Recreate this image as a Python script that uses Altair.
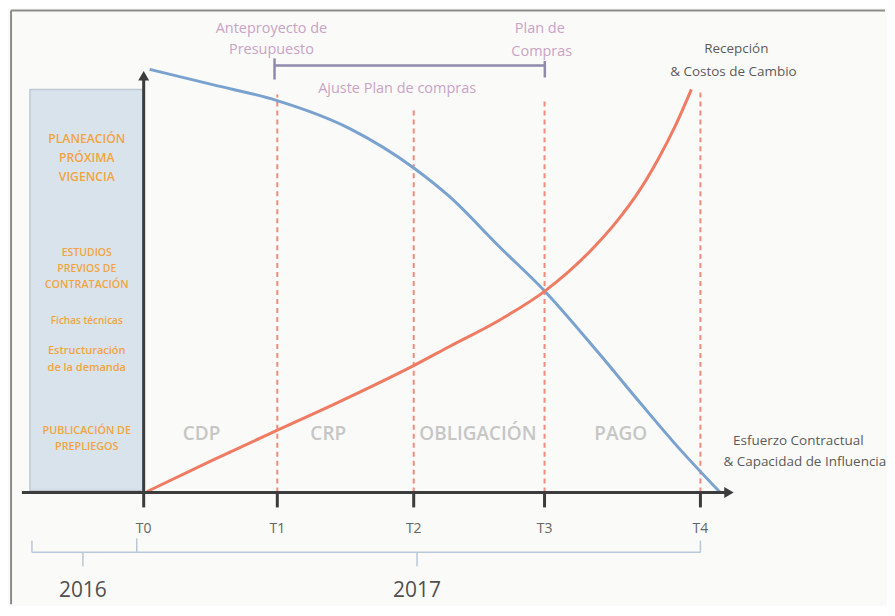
import altair as alt
import pandas as pd

# ---------------- data (T = time milestones, Y = relative level 0-100) ----------------
tick_t = [0.0, 0.96, 1.94, 2.88, 4.0]
tick_labels = ["T0", "T1", "T2", "T3", "T4"]

# blue: Capacidad de influencia (decreasing)
blue_t = [0.043, 0.495, 0.953, 1.477, 1.943, 2.194, 2.552, 2.882, 3.269, 3.556, 3.842, 4.143]
blue_y = [99.8, 96.2, 92.5, 85.9, 76.5, 69.9, 58.1, 47.5, 32.9, 21.6, 10.6, 0.0]

# red: Esfuerzo contractual / costos de cambio (increasing)
red_t = [0.022, 0.473, 0.953, 1.405, 1.943, 2.194, 2.552, 2.882, 3.233, 3.412, 3.541, 3.699, 3.821, 3.935]
red_y = [0.2, 7.3, 14.6, 21.4, 30.0, 34.4, 40.6, 47.5, 57.8, 64.5, 70.2, 78.8, 86.6, 95.1]

# dashed milestone lines (T1..T4) and their top level
dash_t = [0.96, 1.94, 2.88, 4.0]
dash_top = [93.9, 90.6, 92.2, 95.1]

phase_labels = ["CDP", "CRP", "OBLIGACIÓN", "PAGO"]
phase_t = [0.416, 1.326, 2.401, 3.427]
phase_y = [13.9, 13.9, 13.9, 13.9]

box_lines = ["PLANEACIÓN", "PRÓXIMA", "VIGENCIA",
             "ESTUDIOS", "PREVIOS DE", "CONTRATACIÓN",
             "Fichas técnicas",
             "Estructuración", "de la demanda",
             "PUBLICACIÓN DE", "PREPLIEGOS"]
box_line_y = [83.3, 78.8, 74.4, 56.5, 52.7, 48.9, 40.5, 33.4, 29.4, 14.6, 10.8]
box_line_size = [12.2, 12.2, 12.2, 10.5, 10.5, 10.8, 10, 11, 11, 10.8, 10.8]

top_labels = ["Anteproyecto de", "Presupuesto", "Plan de", "Compras", "Ajuste Plan de compras"]
top_t = [0.918, 0.918, 2.846, 2.86, 1.821]
top_y = [109.4, 104.4, 109.4, 104.0, 95.1]

dark_labels = ["Recepción", "& Costos de Cambio", "Esfuerzo Contractual", "& Capacidad de Influencia"]
dark_t = [4.258, 4.237, 4.703, 4.75]
dark_y = [104.5, 99.1, 12.2, 7.3]

year_labels = ["2016", "2017"]
year_t = [-0.437, 1.964]

# ---------------- layout ----------------
W, H = 879, 596
PX_T, PX_Y = 139.5, 4.25
XMIN = -136 / PX_T
XMAX = XMIN + W / PX_T
YMAX = 484 / PX_Y
YMIN = YMAX - H / PX_Y

xs = alt.Scale(domain=[XMIN, XMAX], nice=False, zero=False)
ys = alt.Scale(domain=[YMIN, YMAX], nice=False, zero=False)
X = lambda f: alt.X(f, type="quantitative", scale=xs, axis=None)
Y = lambda f: alt.Y(f, type="quantitative", scale=ys, axis=None)
FONT = "Open Sans"

blue_df = pd.DataFrame({"t": blue_t, "y": blue_y})
red_df = pd.DataFrame({"t": red_t, "y": red_y})
tick_df = pd.DataFrame({"t": tick_t, "label": tick_labels, "y0": 0.0, "y1": -3.5, "ly": -8.5})
dash_df = pd.DataFrame({"t": dash_t, "top": dash_top, "y0": 0.0})
phase_df = pd.DataFrame({"t": phase_t, "y": phase_y, "label": phase_labels})
box_df = pd.DataFrame({"label": box_lines, "y": box_line_y, "size": box_line_size, "t": -0.409})
top_df = pd.DataFrame({"t": top_t, "y": top_y, "label": top_labels})
dark_df = pd.DataFrame({"t": dark_t, "y": dark_y, "label": dark_labels})
year_df = pd.DataFrame({"t": year_t, "label": year_labels, "y": -23.3})

# frame
frame = pd.DataFrame({"x": [-0.953, -0.953], "x2": [-0.953, XMAX], "y": [YMIN, 113.7], "y2": [113.7, 113.7]})
frame_l = alt.Chart(frame).mark_rule(color="#8c8c8c", strokeWidth=2).encode(
    x=X("x"), x2="x2", y=Y("y"), y2="y2")

# side box
box = alt.Chart(pd.DataFrame({"x": [-0.817], "x2": [-0.007], "y": [0.47], "y2": [95.06]})).mark_rect(
    fill="#d9e3ec", stroke="#bcc8d4", strokeWidth=1.5).encode(x=X("x"), x2="x2", y=Y("y"), y2="y2")
box_text = alt.Chart(box_df).mark_text(color="#f2a440", font=FONT, fontWeight=600).encode(
    x=X("t"), y=Y("y"), text="label", size=alt.Size("size:Q", scale=None, legend=None))

# phase labels
phases = alt.Chart(phase_df).mark_text(color="#c6c6c6", font=FONT, fontSize=19, fontWeight=600).encode(
    x=X("t"), y=Y("y"), text="label")

# dashed milestone lines
dashes = alt.Chart(dash_df).mark_rule(color="#ee7866", strokeWidth=2, strokeDash=[5, 4], opacity=0.85).encode(
    x=X("t"), y=Y("y0"), y2="top")

# curves
blue = alt.Chart(blue_df).mark_line(color="#7aa2cf", strokeWidth=3, interpolate="monotone").encode(
    x=X("t"), y=Y("y"))
red = alt.Chart(red_df).mark_line(color="#ef7b63", strokeWidth=3, interpolate="monotone").encode(
    x=X("t"), y=Y("y"))

# axes
axes_df = pd.DataFrame({"x": [0.0, -0.875], "x2": [0.0, 4.19], "y": [0.0, 0.0], "y2": [97.5, 0.0]})
axes = alt.Chart(axes_df).mark_rule(color="#3c3c3c", strokeWidth=3).encode(
    x=X("x"), x2="x2", y=Y("y"), y2="y2")
arrow_up = alt.Chart(pd.DataFrame({"t": [0.0], "y": [98.3]})).mark_point(
    shape="triangle-up", filled=True, color="#3c3c3c", size=120, opacity=1).encode(x=X("t"), y=Y("y"))
arrow_right = alt.Chart(pd.DataFrame({"t": [4.205], "y": [0.0]})).mark_point(
    shape="triangle-right", filled=True, color="#3c3c3c", size=120, opacity=1).encode(x=X("t"), y=Y("y"))
ticks = alt.Chart(tick_df).mark_rule(color="#3c3c3c", strokeWidth=3).encode(
    x=X("t"), y=Y("y0"), y2="y1")
tick_text = alt.Chart(tick_df).mark_text(color="#666666", font=FONT, fontSize=14).encode(
    x=X("t"), y=Y("ly"), text="label")

# top bracket (Anteproyecto -> Plan de compras)
br_df = pd.DataFrame({"x": [0.94, 0.94, 2.882], "x2": [2.882, 0.94, 2.882],
                      "y": [100.7, 97.4, 97.9], "y2": [100.7, 102.4, 101.8]})
bracket = alt.Chart(br_df).mark_rule(color="#8f89ab", strokeWidth=2.5).encode(
    x=X("x"), x2="x2", y=Y("y"), y2="y2")
top_text = alt.Chart(top_df).mark_text(color="#c9a3c6", font=FONT, fontSize=14.5).encode(
    x=X("t"), y=Y("y"), text="label")
dark_text = alt.Chart(dark_df).mark_text(color="#5a5a5a", font=FONT, fontSize=13.5).encode(
    x=X("t"), y=Y("y"), text="label")

# bottom year bracket
yb_df = pd.DataFrame({"x": [-0.803, -0.803, 4.0, -0.05, -0.437, 1.964],
                      "x2": [4.0, -0.803, 4.0, -0.05, -0.437, 1.964],
                      "y": [-14.1, -14.1, -14.1, -14.1, -14.1, -14.1],
                      "y2": [-14.1, -11.3, -11.3, -10.8, -17.4, -17.4]})
ybracket = alt.Chart(yb_df).mark_rule(color="#b9c8d8", strokeWidth=1.5).encode(
    x=X("x"), x2="x2", y=Y("y"), y2="y2")
years = alt.Chart(year_df).mark_text(color="#505050", font=FONT, fontSize=21).encode(
    x=X("t"), y=Y("y"), text="label")

chart = alt.layer(
    frame_l, box, box_text, phases, ybracket, years, dashes, bracket, top_text, dark_text,
    blue, red, axes, ticks, arrow_up, arrow_right, tick_text
).properties(
    width=W, height=H, padding=0, background="#fafaf8"
).configure_view(strokeWidth=0)

chart.save("out.html", embed_options={"renderer": "svg", "actions": False})
